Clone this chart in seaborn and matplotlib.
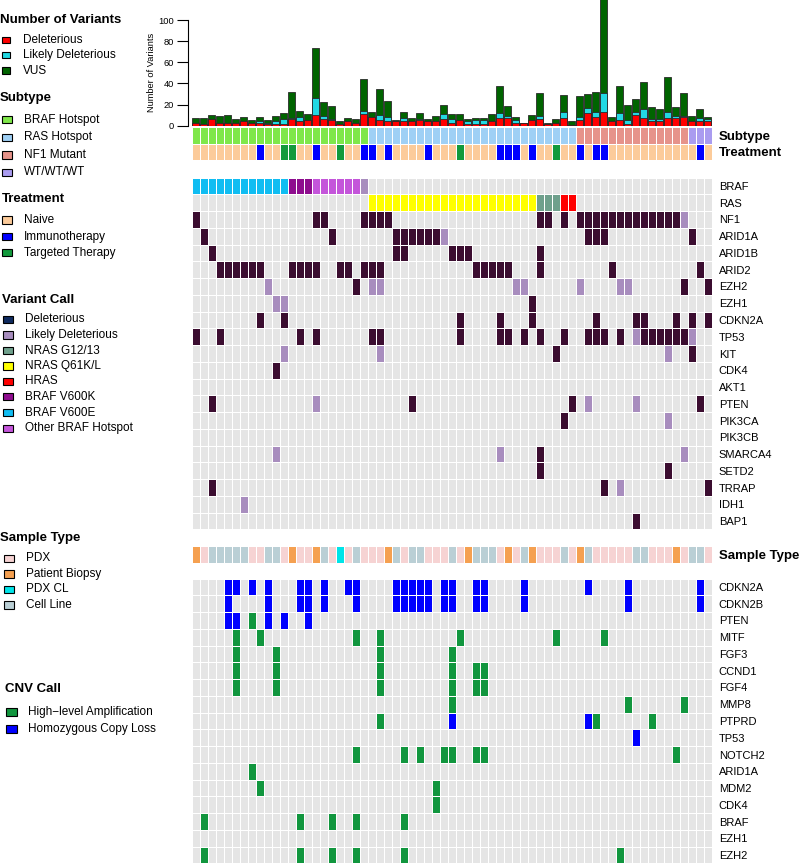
import numpy as np
import pandas as pd
import matplotlib
matplotlib.use("Agg")
import matplotlib.pyplot as plt
from matplotlib.colors import ListedColormap
from matplotlib.patches import Rectangle
import seaborn as sns

sns.set_theme(style="white")
plt.rcParams["font.family"] = ["Liberation Sans", "DejaVu Sans"]

N = 65
SAMPLES = list(range(N))

# ---------------- top bar chart: number of variants per sample ----------------
deleterious_counts = [3, 2, 6, 3, 3, 3, 4, 3, 3, 2,
                      2, 2, 6, 4, 5, 10, 6, 5, 2, 4,
                      3, 11, 8, 5, 4, 4, 4, 4, 5, 4,
                      4, 6, 3, 5, 2, 2, 2, 4, 7, 7,
                      3, 3, 5, 6, 2, 3, 7, 1, 5, 12,
                      8, 13, 4, 5, 2, 10, 7, 4, 4, 7,
                      7, 8, 4, 4, 4]
likely_counts = [0, 0, 0, 0, 0, 0, 0, 0, 1, 1,
                 2, 4, 1, 4, 0, 16, 3, 1, 0, 0,
                 0, 3, 0, 5, 4, 0, 3, 0, 1, 0,
                 0, 5, 3, 0, 2, 3, 3, 0, 5, 2,
                 2, 0, 0, 3, 0, 0, 6, 0, 3, 5,
                 5, 18, 0, 7, 3, 3, 9, 2, 2, 6,
                 2, 1, 0, 3, 2]
vus_counts = [4, 5, 4, 6, 7, 3, 4, 2, 4, 2,
              5, 6, 25, 6, 6, 48, 13, 13, 2, 3,
              3, 30, 5, 25, 15, 1, 6, 3, 6, 2,
              5, 9, 5, 6, 2, 2, 2, 7, 26, 10,
              3, 0, 5, 22, 1, 3, 16, 3, 20, 13,
              19, 89, 4, 26, 15, 12, 25, 12, 10, 33,
              9, 22, 5, 9, 2]

# ---------------- annotations ----------------
subtype_runs = [("BRAF Hotspot", 22), ("RAS Hotspot", 26), ("NF1 Mutant", 14), ("WT/WT/WT", 3)]
subtype_levels = ["BRAF Hotspot", "RAS Hotspot", "NF1 Mutant", "WT/WT/WT"]
subtype_colors = ["#7FE74A", "#9FD0F5", "#E6938A", "#AA9CF0"]

treatment_levels = ["Naive", "Immunotherapy", "Targeted Therapy"]
treatment_colors = ["#FCCB9A", "#0000FF", "#129A3C"]
immunotherapy_samples = [8, 15, 21, 22, 24, 29, 38, 39, 40, 42, 48, 50, 51, 63]
targeted_samples = [11, 12, 18, 33, 45]

sample_type_levels = ["PDX", "Patient Biopsy", "PDX CL", "Cell Line"]
sample_type_colors = ["#F6D3D3", "#F5A050", "#00E4E8", "#BACFD5"]
sample_type = ["Patient Biopsy", "PDX", "Cell Line", "Cell Line", "Cell Line",
               "Cell Line", "Cell Line", "PDX", "PDX", "Cell Line",
               "Cell Line", "PDX", "Patient Biopsy", "PDX", "PDX",
               "Patient Biopsy", "Cell Line", "PDX", "PDX CL", "PDX",
               "Cell Line", "PDX", "PDX", "PDX", "Patient Biopsy",
               "Cell Line", "PDX", "Cell Line", "Cell Line", "PDX",
               "PDX", "PDX", "Cell Line", "PDX", "Patient Biopsy",
               "Cell Line", "Cell Line", "Cell Line", "PDX", "Patient Biopsy",
               "PDX", "Cell Line", "Patient Biopsy", "PDX", "PDX",
               "PDX", "Cell Line", "PDX", "Patient Biopsy", "Cell Line",
               "PDX", "PDX", "PDX", "PDX", "PDX",
               "Cell Line", "Cell Line", "PDX", "PDX", "PDX",
               "Patient Biopsy", "PDX", "Cell Line", "Cell Line", "PDX"]

# ---------------- variant calls ----------------
variant_genes = ["BRAF", "RAS", "NF1", "ARID1A", "ARID1B", "ARID2", "EZH2", "EZH1",
                 "CDKN2A", "TP53", "KIT", "CDK4", "AKT1", "PTEN", "PIK3CA", "PIK3CB",
                 "SMARCA4", "SETD2", "TRRAP", "IDH1", "BAP1"]
variant_levels = ["none", "Deleterious", "Likely Deleterious", "NRAS G12/13", "NRAS Q61K/L",
                  "HRAS", "BRAF V600K", "BRAF V600E", "Other BRAF Hotspot"]
variant_cell_colors = ["#E5E5E5", "#3B0D30", "#A88DBE", "#6FA08C", "#FFFF00",
                       "#FF0000", "#8E0C8E", "#10BDF2", "#C455DA"]
braf_calls = {"BRAF V600E": [0, 1, 2, 3, 4, 5, 6, 7, 8, 9, 10, 11],
              "BRAF V600K": [12, 13, 14],
              "Other BRAF Hotspot": [15, 16, 17, 18, 19, 20],
              "Likely Deleterious": [21]}
ras_calls = {"NRAS Q61K/L": [22, 23, 24, 25, 26, 27, 28, 29, 30, 31, 32, 33, 34, 35, 36,
                             37, 38, 39, 40, 41, 42],
             "NRAS G12/13": [43, 44, 45],
             "HRAS": [46, 47]}
deleterious_hits = {
    "NF1": [0, 15, 16, 21, 22, 23, 24, 43, 44, 46, 48, 49, 50, 51, 52, 53, 54, 55, 56, 57, 58, 59, 60],
    "ARID1A": [1, 17, 25, 26, 27, 28, 29, 30, 49, 50, 51, 62],
    "ARID1B": [2, 25, 26, 32, 33, 34, 43],
    "ARID2": [3, 4, 5, 6, 7, 8, 12, 13, 14, 15, 18, 19, 21, 22, 23, 35, 36, 37, 38, 39, 43, 52, 63],
    "EZH2": [20, 61, 64],
    "EZH1": [42],
    "CDKN2A": [8, 11, 33, 38, 42, 50, 55, 56, 60, 62, 64],
    "TP53": [0, 3, 13, 15, 22, 23, 33, 38, 39, 41, 43, 46, 49, 50, 51, 53, 56, 57, 58, 59, 60, 61],
    "KIT": [45, 62],
    "CDK4": [10],
    "PTEN": [2, 27, 47, 63],
    "PIK3CA": [46],
    "SMARCA4": [43],
    "SETD2": [43, 59],
    "TRRAP": [2, 51, 64],
    "BAP1": [55],
}
likely_hits = {
    "NF1": [61],
    "ARID1A": [31],
    "EZH2": [9, 22, 23, 40, 41, 48, 53, 54],
    "EZH1": [10, 11],
    "TP53": [55, 62],
    "KIT": [11, 23, 59],
    "PTEN": [15, 49, 55],
    "PIK3CA": [59],
    "SMARCA4": [10, 38, 61],
    "TRRAP": [53],
    "IDH1": [6],
}

# ---------------- copy number calls ----------------
cnv_genes = ["CDKN2A", "CDKN2B", "PTEN", "MITF", "FGF3", "CCND1", "FGF4", "MMP8", "PTPRD",
             "TP53", "NOTCH2", "ARID1A", "MDM2", "CDK4", "BRAF", "EZH1", "EZH2"]
cnv_levels = ["none", "High\u2212level Amplification", "Homozygous Copy Loss"]
cnv_colors = ["#E5E5E5", "#11963E", "#0000FF"]
amplification_hits = {
    "PTEN": [7],
    "MITF": [5, 8, 20, 23, 33, 45, 51],
    "FGF3": [5, 10, 23, 32],
    "CCND1": [5, 10, 23, 32, 35, 36],
    "FGF4": [5, 10, 23, 32, 35, 36],
    "MMP8": [32, 54, 61],
    "PTPRD": [23, 50, 57],
    "NOTCH2": [20, 26, 28, 31, 32, 35, 36, 60],
    "ARID1A": [7],
    "MDM2": [8, 30],
    "CDK4": [30],
    "BRAF": [1, 13, 17, 20, 26],
    "EZH2": [1, 13, 17, 20, 26, 53],
}
loss_hits = {
    "CDKN2A": [4, 5, 7, 9, 13, 14, 16, 19, 20, 25, 26, 27, 28, 29, 31, 32, 35, 36, 41, 49, 54, 63],
    "CDKN2B": [4, 9, 13, 14, 16, 20, 25, 26, 27, 28, 29, 31, 32, 35, 36, 41, 54, 63],
    "PTEN": [4, 5, 9, 11, 14],
    "PTPRD": [32, 49],
    "TP53": [55],
}

# ---------------- colors for bars / legend ----------------
DEL_COLOR = "#FF0000"
LIKELY_COLOR = "#22D9E3"
VUS_COLOR = "#006400"
LEGEND_DELETERIOUS = "#0F2A5E"

# ---------------- build matrices ----------------
subtype = []
for lab, n in subtype_runs:
    subtype += [lab] * n
treatment = ["Naive"] * N
for i in immunotherapy_samples:
    treatment[i] = "Immunotherapy"
for i in targeted_samples:
    treatment[i] = "Targeted Therapy"
ann = np.array([[subtype_levels.index(s) for s in subtype],
                [len(subtype_levels) + treatment_levels.index(t) for t in treatment]])

var = np.zeros((len(variant_genes), N), dtype=int)
for lab, idx in braf_calls.items():
    var[0, idx] = variant_levels.index(lab)
for lab, idx in ras_calls.items():
    var[1, idx] = variant_levels.index(lab)
for g, idx in deleterious_hits.items():
    var[variant_genes.index(g), idx] = 1
for g, idx in likely_hits.items():
    var[variant_genes.index(g), idx] = 2

st = np.array([[sample_type_levels.index(s) for s in sample_type]])

cnv = np.zeros((len(cnv_genes), N), dtype=int)
for g, idx in amplification_hits.items():
    cnv[cnv_genes.index(g), idx] = 1
for g, idx in loss_hits.items():
    cnv[cnv_genes.index(g), idx] = 2

# ---------------- figure ----------------
W, H = 800, 865
fig = plt.figure(figsize=(W / 100, H / 100), dpi=100)


def px_axes(x0, y0, x1, y1):
    return fig.add_axes([x0 / W, 1 - y1 / H, (x1 - x0) / W, (y1 - y0) / H])


GL, GR = 191.7, 711.7
LW = 0.55

# bars
ax_bar = px_axes(GL, 0, GR, 125.7)
df = pd.DataFrame({"sample": SAMPLES, "del": deleterious_counts,
                   "likely": likely_counts, "vus": vus_counts})
df["del_likely"] = df["del"] + df["likely"]
df["total"] = df["del_likely"] + df["vus"]
for col, color in [("total", VUS_COLOR), ("del_likely", LIKELY_COLOR), ("del", DEL_COLOR)]:
    sns.barplot(data=df, x="sample", y=col, color=color, saturation=1, width=0.86,
                edgecolor="#2a2a2a", linewidth=0.6, ax=ax_bar, errorbar=None)
ax_bar.set_xlim(-0.5, N - 0.5)
ax_bar.set_ylim(0, 119)
ax_bar.set_xticks([])
ax_bar.set_xlabel("")
ax_bar.set_ylabel("")
ax_bar.set_yticks([0, 20, 40, 60, 80, 100])
ax_bar.tick_params(axis="y", length=8, width=0.8, labelsize=6.7, pad=2.5,
                   colors="black", left=True)
for s in ["top", "right", "bottom"]:
    ax_bar.spines[s].set_visible(False)
ax_bar.spines["left"].set_bounds(0, 100)
ax_bar.spines["left"].set_position(("outward", 2.5))
ax_bar.spines["left"].set_color("black")
ax_bar.spines["left"].set_linewidth(0.8)
ax_bar.patch.set_alpha(0)

# subtype / treatment
ax_ann = px_axes(GL, 127.2, GR, 160.0)
sns.heatmap(ann, cmap=ListedColormap(subtype_colors + treatment_colors), vmin=-0.5, vmax=6.5,
            cbar=False, linewidths=LW, linecolor="white", xticklabels=False,
            yticklabels=["Subtype", "Treatment"], ax=ax_ann)

# variants
ax_var = px_axes(GL, 177.6, GR, 529.4)
sns.heatmap(var, cmap=ListedColormap(variant_cell_colors), vmin=-0.5, vmax=len(variant_levels) - 0.5,
            cbar=False, linewidths=LW, linecolor="white", xticklabels=False,
            yticklabels=variant_genes, ax=ax_var)

# sample type
ax_st = px_axes(GL, 546.3, GR, 562.8)
sns.heatmap(st, cmap=ListedColormap(sample_type_colors), vmin=-0.5, vmax=3.5,
            cbar=False, linewidths=LW, linecolor="white", xticklabels=False,
            yticklabels=["Sample Type"], ax=ax_st)

# cnv
ax_cnv = px_axes(GL, 578.6, GR, 863.4)
sns.heatmap(cnv, cmap=ListedColormap(cnv_colors), vmin=-0.5, vmax=2.5,
            cbar=False, linewidths=LW, linecolor="white", xticklabels=False,
            yticklabels=cnv_genes, ax=ax_cnv)

for ax, bold in [(ax_ann, True), (ax_var, False), (ax_st, True), (ax_cnv, False)]:
    ax.yaxis.tick_right()
    ax.tick_params(axis="y", length=0, pad=5.0, labelsize=9.5 if bold else 8,
                   labelcolor="black")
    for t in ax.get_yticklabels():
        t.set_rotation(0)
        if bold:
            t.set_fontweight("bold")
    ax.set_xticks([])

# ---------------- legends (pixel overlay) ----------------
ax_leg = fig.add_axes([0, 0, 1, 1])
ax_leg.set_xlim(0, W)
ax_leg.set_ylim(H, 0)
ax_leg.axis("off")
ax_leg.patch.set_alpha(0)

ax_leg.text(151, 72, "Number of Variants", rotation=90, ha="center", va="center",
            fontsize=6.7, color="black")


def legend_block(title, title_xy, labels, colors, ys, sw_x, sw_w, sw_h, text_x):
    ax_leg.text(title_xy[0], title_xy[1], title, fontsize=9.5, fontweight="bold",
                ha="left", va="center", color="black")
    for lab, c, y in zip(labels, colors, ys):
        ax_leg.add_patch(Rectangle((sw_x, y - sw_h / 2), sw_w, sw_h, facecolor=c,
                                   edgecolor="black", linewidth=0.8))
        ax_leg.text(text_x, y, lab, fontsize=8.5, ha="left", va="center", color="black")


legend_block("Number of Variants", (0, 20), ["Deleterious", "Likely Deleterious", "VUS"],
             [DEL_COLOR, LIKELY_COLOR, VUS_COLOR], [40, 55, 70.5], 1.5, 8.5, 6.5, 23)
legend_block("Subtype", (0, 97.7), subtype_levels, subtype_colors,
             [119.5, 137.3, 155, 172.3], 2, 10, 7.5, 23.5)
legend_block("Treatment", (1.5, 199.3), treatment_levels, treatment_colors,
             [220, 236.7, 252.7], 2, 10, 7.5, 24)
legend_block("Variant Call", (1.5, 300),
             variant_levels[1:],
             [LEGEND_DELETERIOUS] + variant_cell_colors[2:],
             [319.3, 335, 350.5, 366, 381.3, 396.7, 412.5, 428.3], 3, 9.5, 7.5, 25)
legend_block("Sample Type", (0, 538.5), sample_type_levels, sample_type_colors,
             [558.3, 574, 589.3, 605], 3.5, 10, 7.5, 26)
legend_block("CNV Call", (5, 689), cnv_levels[1:], cnv_colors[1:],
             [712.3, 729.3], 6, 10.5, 8, 28.5)

fig.savefig("out.png", dpi=100)
